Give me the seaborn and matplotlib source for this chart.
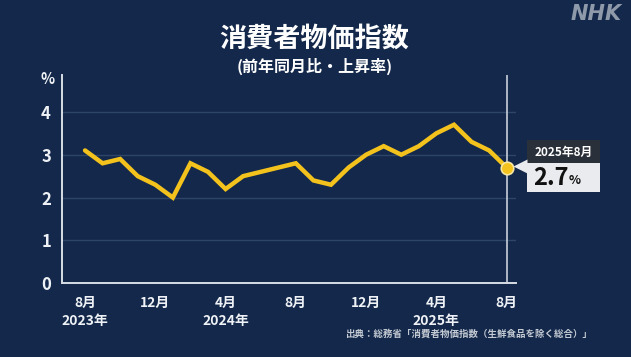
import matplotlib
matplotlib.use("Agg")
import matplotlib.pyplot as plt
import seaborn as sns
import pandas as pd
import numpy as np
from matplotlib.patches import Rectangle, Polygon

# ---- data ----
months = ["2023-08", "2023-09", "2023-10", "2023-11", "2023-12",
          "2024-01", "2024-02", "2024-03", "2024-04", "2024-05", "2024-06",
          "2024-07", "2024-08", "2024-09", "2024-10", "2024-11", "2024-12",
          "2025-01", "2025-02", "2025-03", "2025-04", "2025-05", "2025-06",
          "2025-07", "2025-08"]
cpi = [3.1, 2.8, 2.9, 2.5, 2.3, 2.0, 2.8, 2.6, 2.2, 2.5, 2.6, 2.7, 2.8,
       2.4, 2.3, 2.7, 3.0, 3.2, 3.0, 3.2, 3.5, 3.7, 3.3, 3.1, 2.7]
xtick_idx = [0, 4, 8, 12, 16, 20, 24]
xtick_labels = ["8月\n2023年", "12月", "4月\n2024年", "8月", "12月", "4月\n2025年", "8月"]
yticks = [0, 1, 2, 3, 4]
title = "消費者物価指数"
subtitle = "(前年同月比・上昇率)"
source = "出典：総務省「消費者物価指数（生鮮食品を除く総合）」"
latest_label = "2025年8月"

BG = "#13284a"
YEL = "#f3c21c"
WHITE = "#eef1f5"

sns.set_theme(style="dark")
plt.rcParams["font.family"] = ["Noto Sans CJK JP", "DejaVu Sans"]

df = pd.DataFrame({"i": np.arange(len(months)), "v": cpi})

fig = plt.figure(figsize=(6.31, 3.57), dpi=100, facecolor=BG)
ax = fig.add_axes([62/631, 1-283.3/357, (516-62)/631, (283.3-75)/357])
ax.set_facecolor(BG)

ax.grid(False)
for y in yticks[1:]:
    ax.axhline(y, color="#2d4568", lw=1, zorder=1)

sns.lineplot(data=df, x="i", y="v", ax=ax, color=YEL, lw=3.2, zorder=3,
             solid_joinstyle="miter")
last = len(months) - 1
ax.axvline(last, color="#c9d0da", lw=1.2, zorder=2)
ax.plot([last], [cpi[-1]], "o", ms=9, mfc=YEL, mec="#f7e7a0", mew=1.2, zorder=4)

ax.set_xlim(-1.31, 24.53)
ax.set_ylim(0, 4.86)
ax.set_xticks(xtick_idx)
ax.set_xticklabels(xtick_labels, fontsize=10, fontweight="bold", color=WHITE,
                   linespacing=1.35)
ax.set_yticks(yticks)
ax.set_yticklabels([str(v) for v in yticks], fontsize=12, fontweight="bold",
                   color=WHITE)
ax.tick_params(axis="both", colors="#d8dde5", length=5, width=1.3, direction="out")
ax.tick_params(axis="x", pad=4, labelcolor=WHITE)
ax.tick_params(axis="y", pad=3, labelcolor=WHITE)
ax.set_xlabel("")
ax.set_ylabel("")
for s in ["top", "right"]:
    ax.spines[s].set_visible(False)
for s in ["left", "bottom"]:
    ax.spines[s].set_color("#d8dde5")
    ax.spines[s].set_linewidth(1.4)

# texts
fig.text(0.498, 1-39/357, title, ha="center", va="center", fontsize=19.5,
         fontweight="bold", color="white")
fig.text(0.498, 1-66/357, subtitle, ha="center", va="center", fontsize=11.5,
         fontweight="bold", color="white")
fig.text(48/631, 1-79/357, "%", ha="center", va="center", fontsize=10.5,
         fontweight="bold", color=WHITE)
fig.text(622/631, 1-14/357, "NHK", ha="right", va="center", fontsize=15,
         fontweight="bold", fontstyle="italic", color="#8e99a9",
         family=["DejaVu Sans"])
fig.text(592/631, 1-334/357, source, ha="right", va="center", fontsize=6.8,
         fontweight="bold", color="#c4cad3")

# latest value callout
W, H = 631, 357
def fx(px): return px / W
def fy(py): return 1 - py / H
bx0, bx1 = 527, 600
hy0, hy1, vy1 = 140.5, 163, 192
fig.patches.append(Rectangle((fx(bx0), fy(hy1)), fx(bx1-bx0), (hy1-hy0)/H,
                             transform=fig.transFigure, facecolor="#2a3039",
                             edgecolor="none", zorder=5))
fig.patches.append(Rectangle((fx(bx0), fy(vy1)), fx(bx1-bx0), (vy1-hy1)/H,
                             transform=fig.transFigure, facecolor="#e9ebee",
                             edgecolor="none", zorder=5))
fig.patches.append(Polygon([(fx(513.5), fy(166.5)), (fx(bx0+0.5), fy(159.5)),
                            (fx(bx0+0.5), fy(173.5))], closed=True,
                           transform=fig.transFigure, facecolor="#e9ebee",
                           edgecolor="none", zorder=5))
fig.text(fx((bx0+bx1)/2), fy(152), latest_label, ha="center", va="center",
         fontsize=8.5, fontweight="bold", color="white", zorder=6)
fig.text(fx(533), fy(178), f"{cpi[-1]}", ha="left", va="center",
         fontsize=17, fontweight="bold", color="#111111", zorder=6)
fig.text(fx(569), fy(181), "%", ha="left", va="center",
         fontsize=9, fontweight="bold", color="#111111", zorder=6)

fig.savefig("out.png", dpi=100, facecolor=BG)
